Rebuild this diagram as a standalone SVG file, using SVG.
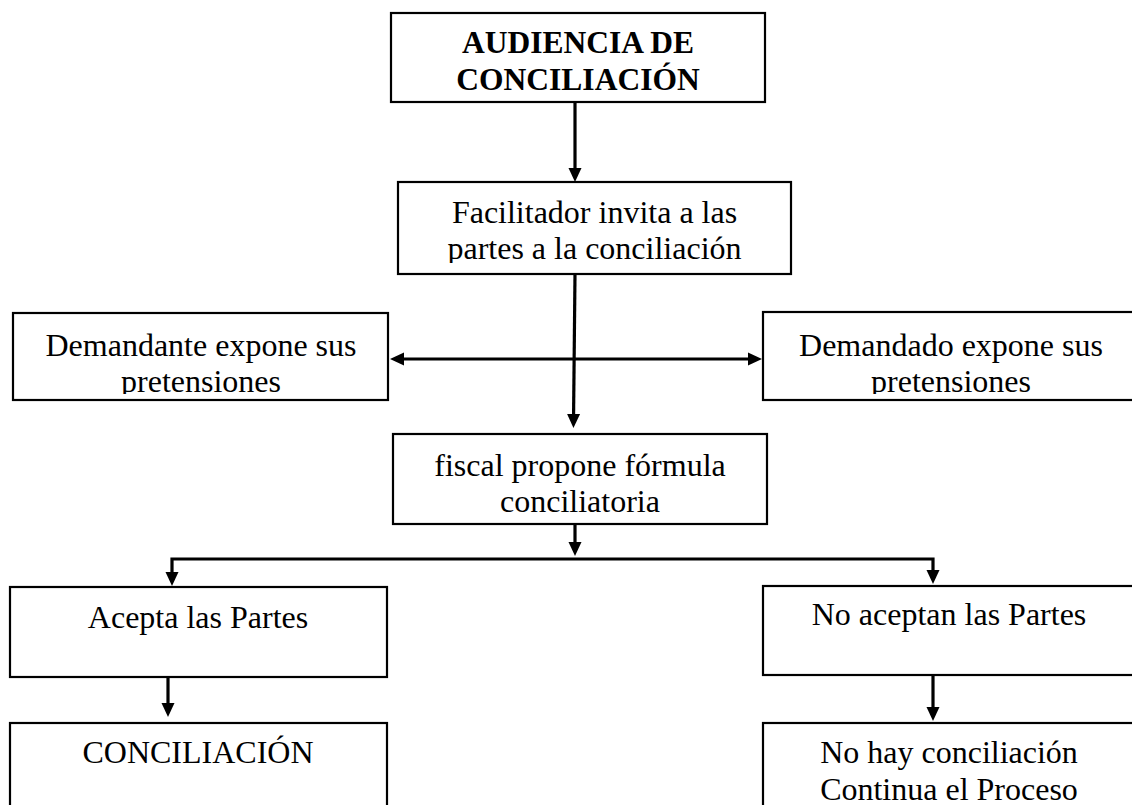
<svg xmlns="http://www.w3.org/2000/svg" width="1132" height="805" viewBox="0 0 1132 805">
<style>
.box{fill:#fff;stroke:#000;stroke-width:2.2}
.t{font-family:"Liberation Serif","Times New Roman",serif;font-size:32px;fill:#000;text-anchor:middle}
.b{font-weight:bold;font-size:31.5px}
.c{fill:none;stroke:#000;stroke-width:3.2}
</style>
<defs>
<marker id="ah" markerUnits="userSpaceOnUse" markerWidth="14" markerHeight="14" viewBox="0 0 14 14" refX="8" refY="7" orient="auto-start-reverse">
<path d="M0,0.5 L14,7 L0,13.5 z" fill="#000"/>
</marker>
<clipPath id="cf"><rect x="398" y="182" width="393" height="81"/></clipPath>
<clipPath id="cdl"><rect x="13" y="313" width="375" height="81"/></clipPath>
<clipPath id="cdr"><rect x="763" y="312" width="376" height="82"/></clipPath>
</defs>
<rect width="1132" height="805" fill="#fff"/>
<g id="connectors">
<line class="c" x1="575" y1="102" x2="575" y2="176" marker-end="url(#ah)"/>
<line class="c" x1="575" y1="274" x2="573.5" y2="422" marker-end="url(#ah)"/>
<line class="c" x1="396" y1="359" x2="756" y2="359" marker-start="url(#ah)" marker-end="url(#ah)"/>
<line class="c" x1="575" y1="524" x2="575" y2="550" marker-end="url(#ah)"/>
<path class="c" d="M575,559 H172 V580" marker-end="url(#ah)"/>
<path class="c" d="M575,559 H933 V578" marker-end="url(#ah)"/>
<line class="c" x1="168" y1="677" x2="168" y2="711" marker-end="url(#ah)"/>
<line class="c" x1="933" y1="675" x2="933" y2="715" marker-end="url(#ah)"/>
</g>
<g id="audiencia">
<rect class="box" x="391" y="13" width="374" height="89"/>
<text class="t b" x="578" y="53">AUDIENCIA DE</text>
<text class="t b" x="578" y="90">CONCILIACIÓN</text>
</g>
<g id="facilitador">
<rect class="box" x="398" y="182" width="393" height="92"/>
<g clip-path="url(#cf)">
<text class="t" x="594.5" y="223">Facilitador invita a las</text>
<text class="t" x="594.5" y="259">partes a la conciliación</text>
</g>
</g>
<g id="demandante">
<rect class="box" x="13" y="313" width="375" height="87"/>
<g clip-path="url(#cdl)">
<text class="t" x="201" y="356">Demandante expone sus</text>
<text class="t" x="201" y="392">pretensiones</text>
</g>
</g>
<g id="demandado">
<rect class="box" x="763" y="312" width="376" height="88"/>
<g clip-path="url(#cdr)">
<text class="t" x="951" y="356">Demandado expone sus</text>
<text class="t" x="951" y="392">pretensiones</text>
</g>
</g>
<g id="fiscal">
<rect class="box" x="393" y="434" width="374" height="90"/>
<text class="t" x="580" y="476">fiscal propone fórmula</text>
<text class="t" x="580" y="512">conciliatoria</text>
</g>
<g id="acepta">
<rect class="box" x="10" y="587" width="377" height="90"/>
<text class="t" x="198" y="628">Acepta las Partes</text>
</g>
<g id="noaceptan">
<rect class="box" x="763" y="586" width="376" height="89"/>
<text class="t" x="949" y="625">No aceptan las Partes</text>
</g>
<g id="conciliacion">
<rect class="box" x="10" y="723" width="377" height="90"/>
<text class="t" x="198" y="763">CONCILIACIÓN</text>
</g>
<g id="nohay">
<rect class="box" x="763" y="723" width="376" height="90"/>
<text class="t" x="949" y="763">No hay conciliación</text>
<text class="t" x="949" y="800">Continua el Proceso</text>
</g>
</svg>
